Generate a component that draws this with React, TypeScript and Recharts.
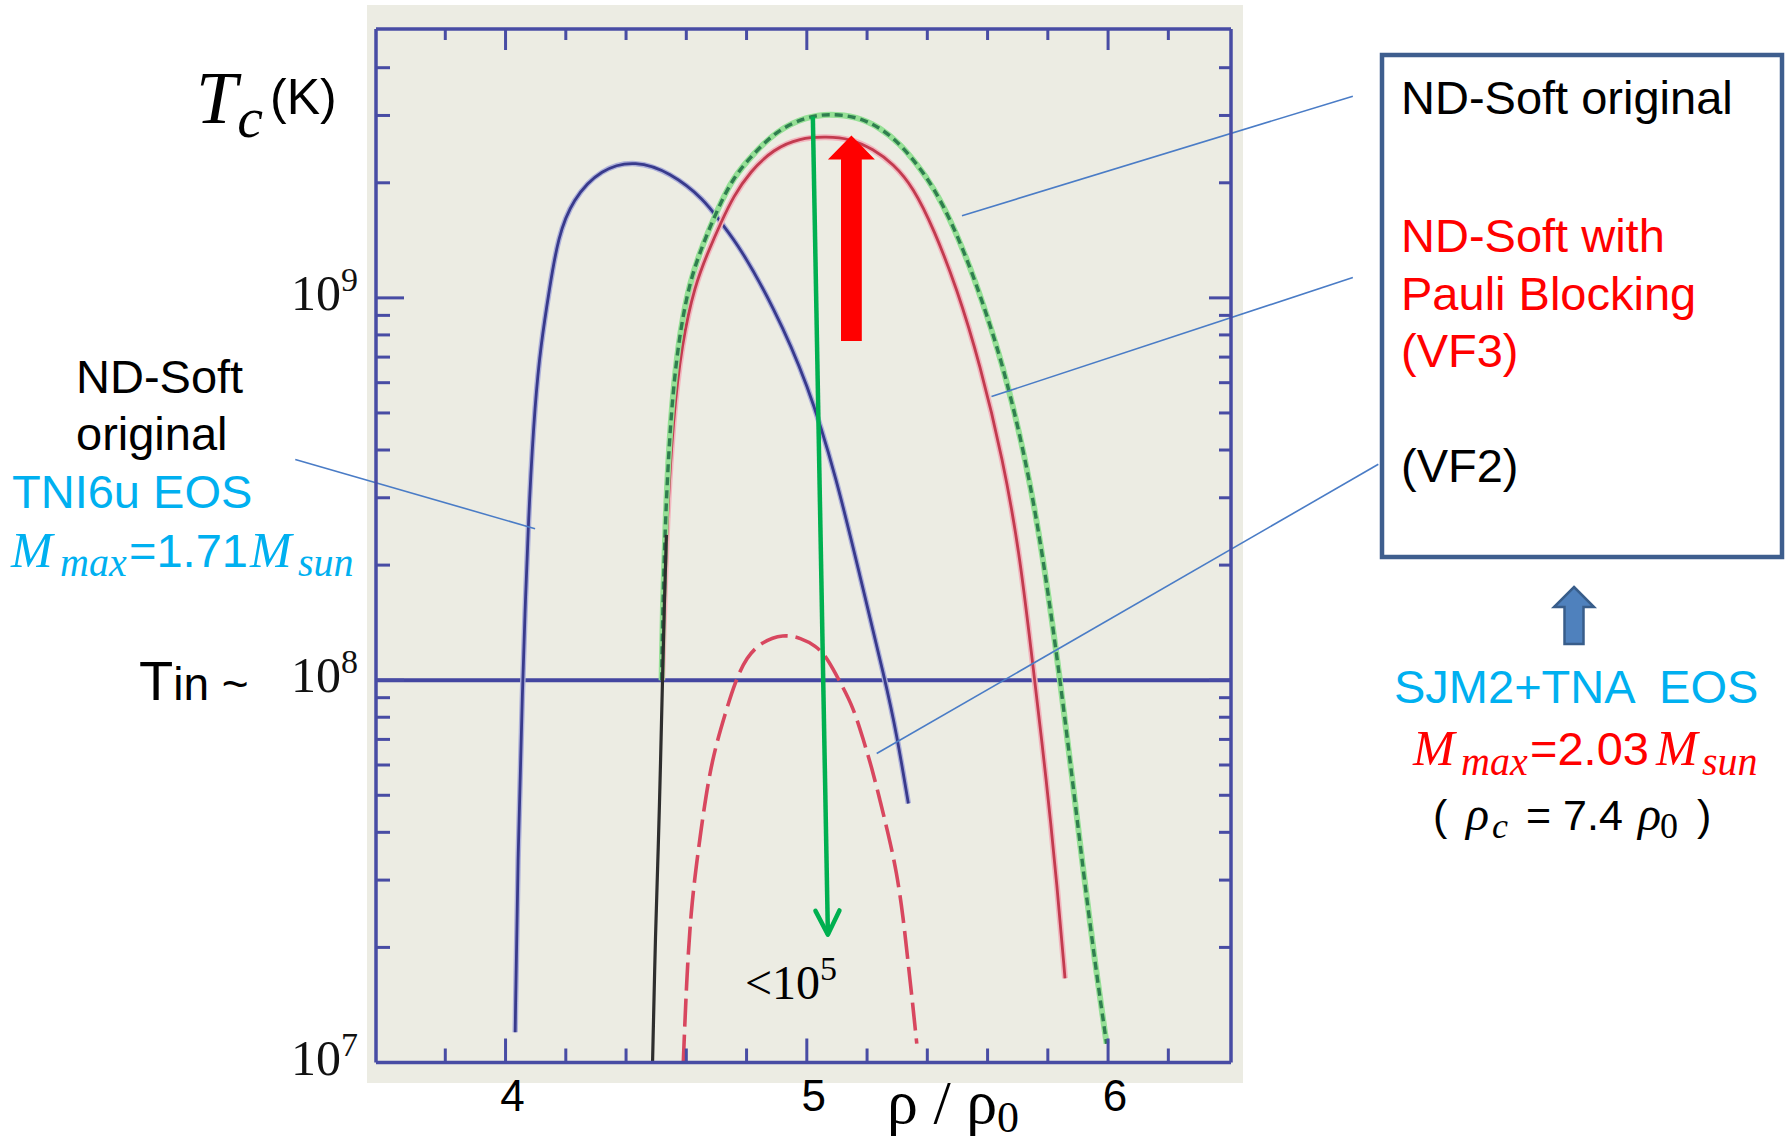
import { LineChart, Line, XAxis, YAxis, ReferenceLine } from 'recharts'

const W = 1791
const H = 1141

const FRAME = '#484ca4'
const LEADER = '#4a7cc6'
const CYAN = '#00b0f0'
const RED = '#ff0000'
const ARROW_GREEN = '#00b050'
const SANS = '"Liberation Sans", Arial, sans-serif'
const SERIF = '"Liberation Serif", "Times New Roman", serif'

// density in units of rho0 (x), Tc in K on a log axis (y)
const X_DOMAIN = [3.57, 6.408]
const Y_DOMAIN = [1e7, 5.05e9]
const X_TICKS = [3.8, 4, 4.2, 4.4, 4.6, 4.8, 5, 5.2, 5.4, 5.6, 5.8, 6, 6.2]
const X_LABELS = [4, 5, 6]
const Y_TICKS = [
  1e7, 2e7, 3e7, 4e7, 5e7, 6e7, 7e7, 8e7, 9e7,
  1e8, 2e8, 3e8, 4e8, 5e8, 6e8, 7e8, 8e8, 9e8,
  1e9, 2e9, 3e9, 4e9,
]
const Y_DECADES: Record<number, string> = { 10000000: '7', 100000000: '8', 1000000000: '9' }
const T_IN = 1e8

// TNI6u EOS, ND-Soft original
const TNI6U = [
  { x: 4.032, t: 1.2e7 },
  { x: 4.041, t: 3.55e7 },
  { x: 4.057, t: 1.0e8 },
  { x: 4.066, t: 1.62e8 },
  { x: 4.079, t: 3.0e8 },
  { x: 4.098, t: 5.33e8 },
  { x: 4.117, t: 7.53e8 },
  { x: 4.146, t: 1.06e9 },
  { x: 4.174, t: 1.44e9 },
  { x: 4.222, t: 1.81e9 },
  { x: 4.317, t: 2.18e9 },
  { x: 4.432, t: 2.29e9 },
  { x: 4.546, t: 2.13e9 },
  { x: 4.66, t: 1.81e9 },
  { x: 4.718, t: 1.56e9 },
  { x: 4.775, t: 1.37e9 },
  { x: 4.889, t: 9.5e8 },
  { x: 5.003, t: 5.98e8 },
  { x: 5.099, t: 3.37e8 },
  { x: 5.175, t: 1.89e8 },
  { x: 5.26, t: 1.0e8 },
  { x: 5.298, t: 7.26e7 },
  { x: 5.337, t: 4.76e7 },
]

// SJM2+TNA, ND-Soft original
const SJM2_ORIGINAL = [
  { x: 4.518, t: 1.0e8 },
  { x: 4.522, t: 1.58e8 },
  { x: 4.531, t: 2.69e8 },
  { x: 4.547, t: 4.79e8 },
  { x: 4.572, t: 7.59e8 },
  { x: 4.61, t: 1.1e9 },
  { x: 4.655, t: 1.38e9 },
  { x: 4.7, t: 1.68e9 },
  { x: 4.756, t: 2.07e9 },
  { x: 4.823, t: 2.38e9 },
  { x: 4.9, t: 2.74e9 },
  { x: 5.0, t: 2.98e9 },
  { x: 5.077, t: 3.03e9 },
  { x: 5.166, t: 2.98e9 },
  { x: 5.243, t: 2.79e9 },
  { x: 5.309, t: 2.53e9 },
  { x: 5.365, t: 2.24e9 },
  { x: 5.42, t: 1.95e9 },
  { x: 5.48, t: 1.58e9 },
  { x: 5.53, t: 1.27e9 },
  { x: 5.575, t: 1.02e9 },
  { x: 5.651, t: 6.71e8 },
  { x: 5.727, t: 3.78e8 },
  { x: 5.784, t: 2.12e8 },
  { x: 5.841, t: 1.0e8 },
  { x: 5.88, t: 5.62e7 },
  { x: 5.918, t: 3.16e7 },
  { x: 5.955, t: 1.86e7 },
  { x: 5.995, t: 1.12e7 },
]

// SJM2+TNA, ND-Soft with Pauli blocking (VF3)
const SJM2_VF3 = [
  { x: 4.52, t: 1.0e8 },
  { x: 4.527, t: 1.58e8 },
  { x: 4.537, t: 2.69e8 },
  { x: 4.556, t: 4.79e8 },
  { x: 4.585, t: 7.59e8 },
  { x: 4.628, t: 1.08e9 },
  { x: 4.676, t: 1.34e9 },
  { x: 4.716, t: 1.58e9 },
  { x: 4.756, t: 1.84e9 },
  { x: 4.812, t: 2.14e9 },
  { x: 4.889, t: 2.45e9 },
  { x: 4.977, t: 2.62e9 },
  { x: 5.066, t: 2.64e9 },
  { x: 5.143, t: 2.61e9 },
  { x: 5.221, t: 2.45e9 },
  { x: 5.287, t: 2.24e9 },
  { x: 5.353, t: 1.95e9 },
  { x: 5.422, t: 1.51e9 },
  { x: 5.498, t: 1.06e9 },
  { x: 5.575, t: 6.71e8 },
  { x: 5.651, t: 3.78e8 },
  { x: 5.708, t: 2.12e8 },
  { x: 5.756, t: 1.0e8 },
  { x: 5.794, t: 5.61e7 },
  { x: 5.832, t: 2.84e7 },
  { x: 5.857, t: 1.66e7 },
]

// SJM2+TNA, VF2
const SJM2_VF2 = [
  { x: 4.59, t: 1.0e7 },
  { x: 4.6, t: 1.58e7 },
  { x: 4.615, t: 2.51e7 },
  { x: 4.64, t: 3.6e7 },
  { x: 4.655, t: 4.4e7 },
  { x: 4.684, t: 6.18e7 },
  { x: 4.73, t: 8.22e7 },
  { x: 4.762, t: 9.9e7 },
  { x: 4.8, t: 1.15e8 },
  { x: 4.85, t: 1.26e8 },
  { x: 4.922, t: 1.32e8 },
  { x: 4.98, t: 1.29e8 },
  { x: 5.03, t: 1.23e8 },
  { x: 5.066, t: 1.15e8 },
  { x: 5.11, t: 9.9e7 },
  { x: 5.154, t: 8.51e7 },
  { x: 5.188, t: 6.97e7 },
  { x: 5.215, t: 5.93e7 },
  { x: 5.243, t: 4.85e7 },
  { x: 5.27, t: 3.97e7 },
  { x: 5.298, t: 3.16e7 },
  { x: 5.32, t: 2.4e7 },
  { x: 5.337, t: 1.8e7 },
  { x: 5.352, t: 1.41e7 },
  { x: 5.365, t: 1.12e7 },
]

// shared low-density branch of the SJM2+TNA curves
const SJM2_LOW = [
  { x: 4.488, t: 1.0e7 },
  { x: 4.498, t: 2.26e7 },
  { x: 4.507, t: 3.6e7 },
  { x: 4.515, t: 6.31e7 },
  { x: 4.521, t: 1.0e8 },
  { x: 4.527, t: 1.58e8 },
  { x: 4.534, t: 2.4e8 },
]

// arrows: start -> end
const DROP_ARROW = [{ x: 5.02, y: 2.98e9 }, { x: 5.07, y: 2.16e7 }]
const RISE_ARROW = [{ x: 5.148, y: 7.71e8 }, { x: 5.148, y: 2.66e9 }]

// leader lines: point on a curve -> its label
const LEADERS = [
  [{ x: 5.515, y: 1.64e9 }, { x: 6.8125, y: 3.37e9 }],
  [{ x: 5.613, y: 5.52e8 }, { x: 6.8125, y: 1.13e9 }],
  [{ x: 5.232, y: 6.43e7 }, { x: 6.897, y: 3.67e8 }],
  [{ x: 4.098, y: 2.49e8 }, { x: 3.302, y: 3.78e8 }],
]

const bottomTick = (p: any) => {
  const { x, y, payload } = p
  const major = X_LABELS.includes(payload.value)
  return (
    <g>
      <line x1={x} y1={y} x2={x} y2={y - (major ? 24 : 14)} stroke={FRAME} strokeWidth={3} />
      {major && (
        <text x={x + 7} y={y + 48} textAnchor="middle" fontFamily={SANS} fontSize={44} fill="#000">
          {payload.value}
        </text>
      )}
    </g>
  )
}

const topTick = (p: any) => {
  const { x, y, payload } = p
  const major = X_LABELS.includes(payload.value)
  return <line x1={x} y1={y} x2={x} y2={y + (major ? 21 : 11)} stroke={FRAME} strokeWidth={3} />
}

const leftTick = (p: any) => {
  const { x, y, payload } = p
  const exp = Y_DECADES[payload.value]
  return (
    <g>
      {payload.value > Y_DOMAIN[0] && (
        <line x1={x} y1={y} x2={x + (exp ? 28 : 14)} y2={y} stroke={FRAME} strokeWidth={3} />
      )}
      {exp && (
        <text x={x - 18} y={y + 12} textAnchor="end" fontFamily={SERIF} fontSize={50} fill="#111">
          10<tspan dy={-19} fontSize={34}>{exp}</tspan>
        </text>
      )}
    </g>
  )
}

const rightTick = (p: any) => {
  const { x, y, payload } = p
  if (payload.value <= Y_DOMAIN[0]) return <g />
  const major = !!Y_DECADES[payload.value]
  return <line x1={x} y1={y} x2={x - (major ? 22 : 12)} y2={y} stroke={FRAME} strokeWidth={3} />
}

// thin arrow with an open head
const dropArrow = (p: any) => {
  const { x1, y1, x2, y2 } = p
  const a = Math.atan2(y2 - y1, x2 - x1)
  const bx = x2 - 24 * Math.cos(a)
  const by = y2 - 24 * Math.sin(a)
  const nx = -Math.sin(a) * 12
  const ny = Math.cos(a) * 12
  return (
    <g>
      <line x1={x1} y1={y1} x2={x2} y2={y2} stroke={ARROW_GREEN} strokeWidth={4.5} />
      <polyline
        points={`${bx + nx},${by + ny} ${x2},${y2} ${bx - nx},${by - ny}`}
        fill="none"
        stroke={ARROW_GREEN}
        strokeWidth={4.5}
        strokeLinecap="round"
        strokeLinejoin="round"
      />
    </g>
  )
}

// block arrow, base -> tip
const riseArrow = (p: any) => {
  const { x1, y1, x2, y2 } = p
  const a = Math.atan2(y2 - y1, x2 - x1)
  const ux = Math.cos(a)
  const uy = Math.sin(a)
  const nx = -uy
  const ny = ux
  const hx = x2 - 24 * ux
  const hy = y2 - 24 * uy
  const s = 10.4
  const h = 23.5
  const pts = [
    [x1 + nx * s, y1 + ny * s],
    [hx + nx * s, hy + ny * s],
    [hx + nx * h, hy + ny * h],
    [x2, y2],
    [hx - nx * h, hy - ny * h],
    [hx - nx * s, hy - ny * s],
    [x1 - nx * s, y1 - ny * s],
  ]
  return <polygon points={pts.map((q) => q.join(',')).join(' ')} fill={RED} />
}

export default function App() {
  return (
    <div style={{ position: 'absolute', left: 0, top: 0, width: W, height: H, background: '#fff', overflow: 'hidden' }}>
      {/* scanned plot paper */}
      <div style={{ position: 'absolute', left: 367, top: 5, width: 876, height: 1078, background: '#ecece3' }} />

      <div style={{ position: 'absolute', left: 0, top: 0 }}>
        <LineChart width={W} height={H} margin={{ top: 19, right: 550, bottom: 8.5, left: 276 }}>
          <XAxis
            type="number"
            dataKey="x"
            domain={X_DOMAIN}
            allowDataOverflow
            ticks={X_TICKS}
            interval={0}
            height={70}
            tickSize={0}
            tickMargin={0}
            tickLine={false}
            axisLine={{ stroke: FRAME, strokeWidth: 3.5 }}
            tick={bottomTick}
          />
          <XAxis
            xAxisId="top"
            orientation="top"
            type="number"
            dataKey="x"
            domain={X_DOMAIN}
            allowDataOverflow
            ticks={X_TICKS}
            interval={0}
            height={10}
            tickSize={0}
            tickMargin={0}
            tickLine={false}
            axisLine={{ stroke: FRAME, strokeWidth: 3.5 }}
            tick={topTick}
          />
          <YAxis
            type="number"
            scale="log"
            domain={Y_DOMAIN}
            allowDataOverflow
            ticks={Y_TICKS}
            interval={0}
            width={100}
            tickSize={0}
            tickMargin={0}
            tickLine={false}
            axisLine={{ stroke: FRAME, strokeWidth: 3.5 }}
            tick={leftTick}
          />
          <YAxis
            yAxisId="right"
            orientation="right"
            type="number"
            scale="log"
            domain={Y_DOMAIN}
            allowDataOverflow
            ticks={Y_TICKS}
            interval={0}
            width={10}
            tickSize={0}
            tickMargin={0}
            tickLine={false}
            axisLine={{ stroke: FRAME, strokeWidth: 3.5 }}
            tick={rightTick}
          />

          <ReferenceLine y={T_IN} stroke="#4346a0" strokeWidth={4} />

          <Line data={TNI6U} dataKey="t" type="basis" stroke="#aeb1da" strokeWidth={5.5} dot={false} isAnimationActive={false} />
          <Line data={TNI6U} dataKey="t" type="basis" stroke="#383a8c" strokeWidth={2.8} dot={false} isAnimationActive={false} />

          <Line data={SJM2_VF2} dataKey="t" type="basis" stroke="#d8475f" strokeWidth={3.6} strokeDasharray="28 8" dot={false} isAnimationActive={false} />

          <Line data={SJM2_VF3} dataKey="t" type="basis" stroke="#f2b6bf" strokeWidth={6} dot={false} isAnimationActive={false} />
          <Line data={SJM2_VF3} dataKey="t" type="basis" stroke="#c23b4f" strokeWidth={2.8} dot={false} isAnimationActive={false} />

          <Line data={SJM2_ORIGINAL} dataKey="t" type="basis" stroke="#96e096" strokeWidth={6} dot={false} isAnimationActive={false} />
          <Line data={SJM2_ORIGINAL} dataKey="t" type="basis" stroke="#2f7f4f" strokeWidth={3.4} strokeDasharray="8 5" dot={false} isAnimationActive={false} />

          <Line data={SJM2_LOW} dataKey="t" type="basis" stroke="#2e2e2e" strokeWidth={3.2} dot={false} isAnimationActive={false} />

          <ReferenceLine segment={DROP_ARROW} shape={dropArrow} />
          <ReferenceLine segment={RISE_ARROW} shape={riseArrow} />

          {LEADERS.map((seg, i) => (
            <ReferenceLine key={i} segment={seg} stroke={LEADER} strokeWidth={1.6} ifOverflow="visible" />
          ))}
        </LineChart>
      </div>

      <svg width={W} height={H} style={{ position: 'absolute', left: 0, top: 0, pointerEvents: 'none' }}>
        <g fontFamily={SANS} fontSize={47} fill="#000">
          {/* axis titles */}
          <text x={196} y={123} fontFamily={SERIF} fontStyle="italic" fontSize={74}>
            T<tspan fontSize={58} dy={14}>c</tspan>
          </text>
          <text x={270} y={114} fontSize={50}>(K)</text>
          <text x={887} y={1123} fontFamily={SERIF} fontSize={62}>
            ρ / ρ<tspan fontSize={44} dy={9}>0</tspan>
          </text>
          <text x={745} y={999} fontFamily={SERIF} fontSize={48}>
            &lt;10<tspan fontSize={34} dy={-19}>5</tspan>
          </text>

          {/* left notes */}
          <text x={76} y={393}>ND-Soft</text>
          <text x={76} y={450}>original</text>
          <text x={12} y={508} fill={CYAN}>TNI6u EOS</text>
          <text y={567} fill={CYAN}>
            <tspan x={11} fontFamily={SERIF} fontStyle="italic" fontSize={50}>M</tspan>
            <tspan x={60} fontFamily={SERIF} fontStyle="italic" fontSize={40} dy={9}>max</tspan>
            <tspan x={129} dy={-9}>=1.71</tspan>
            <tspan x={250} fontFamily={SERIF} fontStyle="italic" fontSize={50}>M</tspan>
            <tspan x={298} fontFamily={SERIF} fontStyle="italic" fontSize={40} dy={9}>sun</tspan>
          </text>
          <text x={139} y={700} fontSize={56}>
            T<tspan fontSize={46}>in ~</tspan>
          </text>

          {/* legend box */}
          <rect x={1382} y={55} width={400} height={502} fill="none" stroke="#3e5e8e" strokeWidth={4.5} />
          <text x={1401} y={114}>ND-Soft original</text>
          <text x={1401} y={252} fill={RED}>ND-Soft with</text>
          <text x={1401} y={310} fill={RED}>Pauli Blocking</text>
          <text x={1401} y={367} fill={RED}>(VF3)</text>
          <text x={1401} y={482}>(VF2)</text>

          <polygon
            points="1574,587 1594,607 1583.5,607 1583.5,644 1564.5,644 1564.5,607 1554,607"
            fill="#4f81bd"
            stroke="#385d8a"
            strokeWidth={2.5}
          />
          <text x={1394} y={703} fill={CYAN} style={{ whiteSpace: 'pre' }}>SJM2+TNA  EOS</text>
          <text y={765} fill={RED}>
            <tspan x={1413} fontFamily={SERIF} fontStyle="italic" fontSize={50}>M</tspan>
            <tspan x={1461} fontFamily={SERIF} fontStyle="italic" fontSize={40} dy={10}>max</tspan>
            <tspan x={1530} dy={-10}>=2.03</tspan>
            <tspan x={1656} fontFamily={SERIF} fontStyle="italic" fontSize={50}>M</tspan>
            <tspan x={1702} fontFamily={SERIF} fontStyle="italic" fontSize={40} dy={10}>sun</tspan>
          </text>
          <text y={830} fontSize={43}>
            <tspan x={1433}>(</tspan>
            <tspan x={1466} fontFamily={SERIF} fontStyle="italic" fontSize={48}>ρ</tspan>
            <tspan x={1492} fontFamily={SERIF} fontStyle="italic" fontSize={36} dy={8}>c</tspan>
            <tspan x={1526} dy={-8}>= 7.4</tspan>
            <tspan x={1638} fontFamily={SERIF} fontStyle="italic" fontSize={48}>ρ</tspan>
            <tspan x={1660} fontFamily={SERIF} fontSize={36} dy={8}>0</tspan>
            <tspan x={1697} dy={-8}>)</tspan>
          </text>
        </g>
      </svg>
    </div>
  )
}
